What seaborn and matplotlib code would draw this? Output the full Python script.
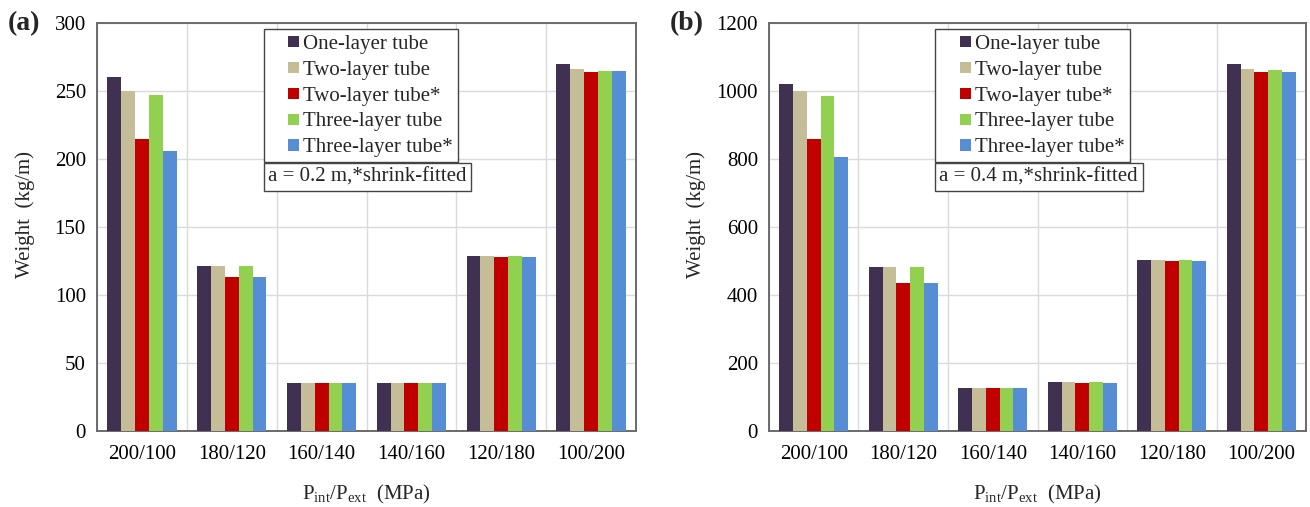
import numpy as np
import pandas as pd
import matplotlib
matplotlib.use("Agg")
import matplotlib.pyplot as plt
from matplotlib.patches import Rectangle
from matplotlib.legend_handler import HandlerPatch
import seaborn as sns

# Pressure cases P_int/P_ext (MPa)
categories = ["200/100", "180/120", "160/140", "140/160", "120/180", "100/200"]
series_names = ["One-layer tube", "Two-layer tube", "Two-layer tube*",
                "Three-layer tube", "Three-layer tube*"]

# Weight per unit length (kg/m), a = 0.2 m
weight_a02 = {
    "One-layer tube":    [260, 121, 35, 35, 129, 270],
    "Two-layer tube":    [250, 121, 35, 35, 129, 266],
    "Two-layer tube*":   [215, 113, 35, 35, 128, 264],
    "Three-layer tube":  [247, 121, 35, 35, 129, 265],
    "Three-layer tube*": [206, 113, 35, 35, 128, 265],
}
# Weight per unit length (kg/m), a = 0.4 m
weight_a04 = {
    "One-layer tube":    [1022, 483, 126, 143, 502, 1078],
    "Two-layer tube":    [1000, 481, 126, 143, 502, 1064],
    "Two-layer tube*":   [859, 436, 126, 140, 499, 1055],
    "Three-layer tube":  [985, 481, 126, 143, 502, 1061],
    "Three-layer tube*": [806, 436, 126, 140, 499, 1055],
}

palette = ["#403152", "#C4BD97", "#C00000", "#92D050", "#558ED5"]

sns.set_theme(style="white")
plt.rcParams["font.family"] = ["Liberation Serif", "DejaVu Serif"]
plt.rcParams["mathtext.fontset"] = "custom"
plt.rcParams["mathtext.rm"] = "Liberation Serif"
plt.rcParams["mathtext.it"] = "Liberation Serif:italic"


def to_long(table):
    rows = []
    for name in series_names:
        for cat, val in zip(categories, table[name]):
            rows.append({"case": cat, "series": name, "weight": val})
    return pd.DataFrame(rows)


def square_key(legend, orig_handle, xdescent, ydescent, width, height, fontsize):
    # small square swatch sitting at the right end of the handle area
    s = 8.0
    return Rectangle((-xdescent + width - s, -ydescent + (height - s) / 2), s, s)


fig = plt.figure(figsize=(13.1, 5.07), dpi=100)
W, H = 1310, 507
ax_a = fig.add_axes([97 / W, (H - 431) / H, 539 / W, 408 / H])
ax_b = fig.add_axes([769 / W, (H - 431) / H, 537 / W, 408 / H])

panels = [
    (ax_a, weight_a02, 300, 50, "(a)", "a = 0.2 m,*shrink-fitted", 8),
    (ax_b, weight_a04, 1200, 200, "(b)", "a = 0.4 m,*shrink-fitted", 670),
]

for ax, table, ymax, ystep, tag, note, tag_x in panels:
    df = to_long(table)
    sns.barplot(data=df, x="case", y="weight", hue="series",
                hue_order=series_names, order=categories, palette=palette,
                width=0.77, errorbar=None, linewidth=0, saturation=1,
                ax=ax, zorder=3)
    ax.set_xlim(-0.5, len(categories) - 0.5)
    ax.set_ylim(0, ymax)
    ax.set_yticks(np.arange(0, ymax + 1, ystep))
    # vertical grid on category boundaries, horizontal on y ticks
    ax.set_xticks(np.arange(-0.5, len(categories), 1.0), minor=True)
    ax.grid(False)
    ax.yaxis.grid(True, color="#dadada", linewidth=1.0, zorder=0)
    ax.xaxis.grid(True, which="minor", color="#dadada", linewidth=1.0, zorder=0)
    ax.set_axisbelow(True)
    ax.tick_params(axis="both", which="both", length=0, labelsize=15,
                   colors="black")
    ax.tick_params(axis="x", pad=10)
    ax.tick_params(axis="y", pad=8)
    for sp in ax.spines.values():
        sp.set_visible(True)
        sp.set_color("#6a6a6a")
        sp.set_linewidth(1.4)

    ax.set_xlabel(r"P$_{\mathrm{int}}$/P$_{\mathrm{ext}}$  (MPa)", fontsize=15)
    ax.xaxis.set_label_coords(0.5, -0.128)
    ax.set_ylabel("Weight  (kg/m)", fontsize=15)
    ax.yaxis.set_label_coords(-0.115 if ax is ax_a else -0.118, 0.53)

    handles, labels = ax.get_legend_handles_labels()
    leg = ax.legend(handles, labels, loc="upper left",
                    bbox_to_anchor=(0.31, 0.985), borderaxespad=0, fontsize=15,
                    frameon=True, fancybox=False, framealpha=1,
                    edgecolor="#444444", handlelength=1.44, handleheight=0.7,
                    handletextpad=0.2, labelspacing=0.3, borderpad=0.25,
                    handler_map={Rectangle: HandlerPatch(patch_func=square_key)})
    leg.get_frame().set_linewidth(1.0)
    leg.set_zorder(5)

    ax.text(0.31 + 4 / 539, (431 - 177) / 408, note, transform=ax.transAxes,
            fontsize=15, va="center", ha="left", zorder=6,
            bbox=dict(boxstyle="square,pad=0.22", facecolor="white",
                      edgecolor="#444444", linewidth=1.0))

    fig.text(tag_x / W, 1 - 24 / H, tag, fontsize=20,
             fontweight="bold", va="center", ha="left")

fig.savefig("out.png", dpi=100)
